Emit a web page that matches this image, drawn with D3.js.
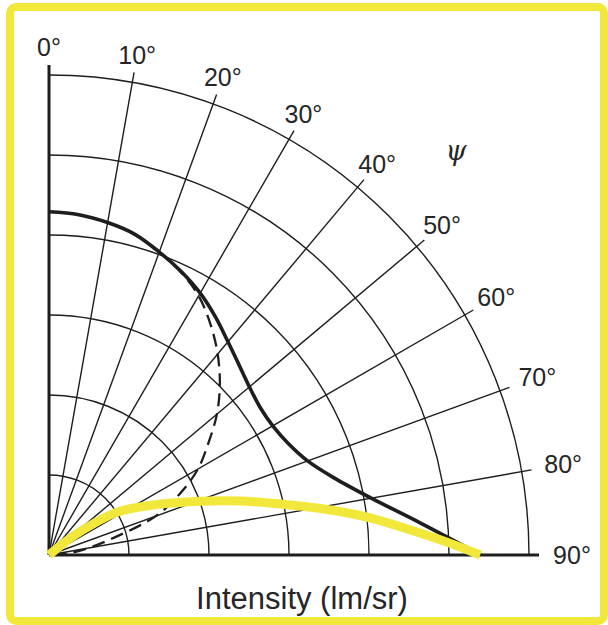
<!DOCTYPE html>
<html>
<head>
<meta charset="utf-8">
<script src="https://cdn.jsdelivr.net/npm/d3@7"></script>
<style>
  html, body { margin: 0; padding: 0; background: #fff; }
  svg { display: block; }
</style>
</head>
<body>
<svg id="chart" width="608" height="625"></svg>
<script>
// ---- data ----
const gridAngles = [0, 10, 20, 30, 40, 50, 60, 70, 80, 90];
const angleLabels = ["0°", "10°", "20°", "30°", "40°", "50°", "60°", "70°", "80°", "90°"];
const ringValues = [1, 2, 3, 4, 5, 6];

const solidAngles = [0, 5, 10, 15, 20, 25, 30, 35, 40, 45, 50, 55, 60, 65, 70, 75, 80, 85, 90];
const solidIntensity = [4.29, 4.27, 4.22, 4.15, 4.03, 3.91, 3.78, 3.63, 3.48, 3.36, 3.27, 3.22, 3.23, 3.30, 3.44, 3.70, 4.09, 4.65, 5.40];

const dashedAngles = [20, 25, 30, 35, 40, 45, 50, 55, 60, 65, 70, 75, 80, 85, 90];
const dashedIntensity = [4.03, 3.90, 3.74, 3.52, 3.28, 3.02, 2.74, 2.43, 2.15, 1.80, 1.42, 0.85, 0.50, 0.24, 0];

const yellowAngles = [48, 52, 55, 58, 64, 69.4, 74.2, 78.3, 80.9, 83.4, 86, 88.3, 90];
const yellowIntensity = [0, 0.38, 0.70, 1.02, 1.42, 1.89, 2.48, 3.08, 3.56, 4.04, 4.52, 5.01, 5.39];

const xTitle = "Intensity (lm/sr)";
const psiLabel = "ψ";

// ---- layout ----
const svg = d3.select("#chart");
const origin = { x: 49, y: 555 };
const rScale = d3.scaleLinear().domain([0, 6]).range([0, 480]);
const toRad = d => d * Math.PI / 180;
const ink = "#1e1e1e";
const yellow = "#f2e83b";

// border
svg.append("rect")
  .attr("x", 10).attr("y", 7)
  .attr("width", 594).attr("height", 614)
  .attr("rx", 6)
  .attr("fill", "none")
  .attr("stroke", yellow)
  .attr("stroke-width", 8);

const g = svg.append("g").attr("transform", `translate(${origin.x},${origin.y})`);

// rings
const arc = d3.arc().startAngle(0).endAngle(Math.PI / 2);
g.selectAll("path.ring").data(ringValues).join("path")
  .attr("class", "ring")
  .attr("d", v => arc({ innerRadius: rScale(v), outerRadius: rScale(v) }))
  .attr("fill", "none")
  .attr("stroke", ink)
  .attr("stroke-width", 1.4);

// radial spokes
const spokeLen = rScale(6) + 10;
g.selectAll("line.spoke").data(gridAngles).join("line")
  .attr("class", "spoke")
  .attr("x1", 0).attr("y1", 0)
  .attr("x2", a => spokeLen * Math.sin(toRad(a)))
  .attr("y2", a => -spokeLen * Math.cos(toRad(a)))
  .attr("stroke", ink)
  .attr("stroke-width", a => (a === 0 || a === 90) ? 3 : 1.4);

// angle labels
const labelR = a => 508 + 15 * Math.pow(Math.sin(toRad(a)), 4);
g.selectAll("text.alab").data(gridAngles).join("text")
  .attr("class", "alab")
  .attr("x", a => labelR(a) * Math.sin(toRad(a)))
  .attr("y", a => -labelR(a) * Math.cos(toRad(a)))
  .attr("text-anchor", "middle")
  .attr("dominant-baseline", "central")
  .attr("font-family", "Liberation Sans, Arial, sans-serif")
  .attr("font-size", 25)
  .attr("fill", "#262626")
  .text((a, i) => angleLabels[i]);

// curves
const radial = d3.lineRadial()
  .angle(d => toRad(d[0]))
  .radius(d => rScale(d[1]))
  .curve(d3.curveCatmullRom.alpha(0.5));

const yellowData = yellowAngles.map((a, i) => [a, yellowIntensity[i]]);
const dashedData = dashedAngles.map((a, i) => [a, dashedIntensity[i]]);
const solidData = solidAngles.map((a, i) => [a, solidIntensity[i]]);

g.append("path")
  .attr("d", radial(dashedData))
  .attr("fill", "none")
  .attr("stroke", ink)
  .attr("stroke-width", 2.3)
  .attr("stroke-dasharray", "13,7");

g.append("path")
  .attr("d", radial(solidData))
  .attr("fill", "none")
  .attr("stroke", ink)
  .attr("stroke-width", 3.6);

g.append("path")
  .attr("d", radial(yellowData))
  .attr("fill", "none")
  .attr("stroke", yellow)
  .attr("stroke-width", 9);

// psi
svg.append("text")
  .attr("x", 456).attr("y", 150)
  .attr("text-anchor", "middle")
  .attr("dominant-baseline", "central")
  .attr("font-family", "DejaVu Serif, Liberation Serif, serif")
  .attr("font-style", "italic")
  .attr("font-size", 27)
  .attr("fill", "#262626")
  .text(psiLabel);

// x title
svg.append("text")
  .attr("x", 302).attr("y", 598)
  .attr("text-anchor", "middle")
  .attr("dominant-baseline", "central")
  .attr("font-family", "Liberation Sans, Arial, sans-serif")
  .attr("font-size", 31)
  .attr("fill", "#262626")
  .text(xTitle);
</script>
</body>
</html>
